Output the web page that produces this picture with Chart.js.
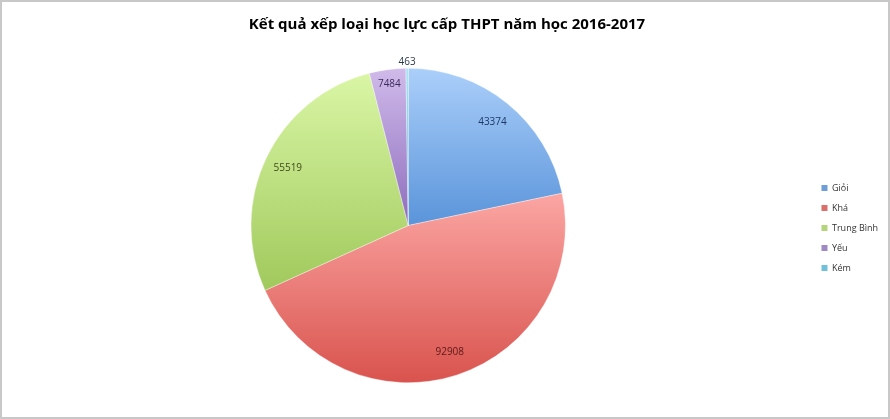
<!DOCTYPE html>
<html>
<head>
<meta charset="utf-8">
<script src="https://cdn.jsdelivr.net/npm/chart.js@4/dist/chart.umd.min.js"></script>
<style>
    html, body { margin: 0; padding: 0; background: #c8c8c8; }
    #wrap { position: absolute; left: 2px; top: 2px; width: 886px; height: 415px; background: #fff; }
</style>
</head>
<body>
<div id="wrap"><canvas id="chart-hocluc-pie" width="886" height="415"></canvas></div>
<script>
const labels = ["Giỏi", "Khá", "Trung Bình", "Yếu", "Kém"];
const values = [43374, 92908, 55519, 7484, 463];

const colorLight = ["#abcffa", "#fba6a3", "#daf6a6", "#d0bbea", "#a6e2f2"];
const colorDark = ["#5a94da", "#d9534e", "#a0c95c", "#8d6cbd", "#4bacc6"];
const colorLegend = ["#6d9fd6", "#db6f6c", "#b5d57a", "#a08ac4", "#6ec1d8"];
const colorLabel = ["#1f3864", "#5a1a18", "#3b4a1a", "#3e2b5c", "#2a3a4a"];

// vertical gradient per slice, from the slice's top to its bottom
function sliceGradient(context) {
    const chart = context.chart;
    const area = chart.chartArea;
    const i = context.dataIndex;
    if (!area || i === undefined) return colorDark[i] || "#999";
    const cx = (area.left + area.right) / 2;
    const cy = (area.top + area.bottom) / 2;
    const r = Math.min(area.right - area.left, area.bottom - area.top) / 2;
    const total = values.reduce((a, b) => a + b, 0);
    let start = -Math.PI / 2;
    for (let k = 0; k < i; k++) start += values[k] / total * Math.PI * 2;
    const end = start + values[i] / total * Math.PI * 2;
    let minY = cy, maxY = cy;
    for (let s = 0; s <= 40; s++) {
        const a = start + (end - start) * s / 40;
        const y = cy + r * Math.sin(a);
        minY = Math.min(minY, y);
        maxY = Math.max(maxY, y);
    }
    if (maxY - minY < 1) maxY = minY + 1;
    const g = chart.ctx.createLinearGradient(0, minY, 0, maxY);
    g.addColorStop(0, colorLight[i]);
    g.addColorStop(1, colorDark[i]);
    return g;
}

// value labels on the slices, small ones go outside
const valueLabels = {
    id: 'valueLabels',
    afterDatasetsDraw(chart) {
        const ctx = chart.ctx;
        const meta = chart.getDatasetMeta(0);
        const total = values.reduce((a, b) => a + b, 0);
        ctx.save();
        ctx.font = '10px "Open Sans", sans-serif';
        ctx.textAlign = 'center';
        ctx.textBaseline = 'middle';
        meta.data.forEach((arc, i) => {
            const mid = (arc.startAngle + arc.endAngle) / 2;
            const share = values[i] / total;
            const dist = share < 0.01 ? arc.outerRadius + 6 : (share < 0.05 ? arc.outerRadius * 0.91 : arc.outerRadius * 0.85);
            const x = arc.x + Math.cos(mid) * dist;
            const y = arc.y + Math.sin(mid) * dist;
            ctx.fillStyle = colorLabel[i];
            ctx.fillText(values[i], x, y);
        });
        ctx.restore();
    }
};

var context_chart_hocluc_pie = document.getElementById("chart-hocluc-pie").getContext('2d');
var chart_hocluc_pie = new Chart(context_chart_hocluc_pie, {
    type: 'pie',
    plugins: [valueLabels],
    data: {
        labels: labels,
        datasets: [{
            data: values,
            backgroundColor: sliceGradient,
            borderWidth: 0.6,
            borderColor: "rgba(255,255,255,0.6)"
        }]
    },
    options: {
        responsive: false,
        animation: false,
        layout: {
            padding: { top: 0, bottom: 34, left: 4, right: 0 }
        },
        plugins: {
            title: {
                display: true,
                text: 'Kết quả xếp loại học lực cấp THPT năm học 2016-2017',
                color: '#000',
                font: { family: '"Open Sans", sans-serif', size: 15, weight: 'bold' },
                padding: { top: 14, bottom: 34 }
            },
            legend: {
                position: 'right',
                title: {
                    display: true,
                    text: ' ',
                    font: { size: 1 },
                    padding: { top: 70, bottom: 0 }
                },
                labels: {
                    boxWidth: 6,
                    boxHeight: 6,
                    padding: 11,
                    color: '#333',
                    font: { family: '"Open Sans", sans-serif', size: 9 },
                    generateLabels: (chart) => labels.map((l, i) => ({
                        text: l,
                        fillStyle: colorLegend[i],
                        strokeStyle: colorLegend[i],
                        lineWidth: 0,
                        index: i,
                        fontColor: '#333'
                    }))
                }
            },
            tooltip: { enabled: false }
        }
    }
});
</script>
</body>
</html>
